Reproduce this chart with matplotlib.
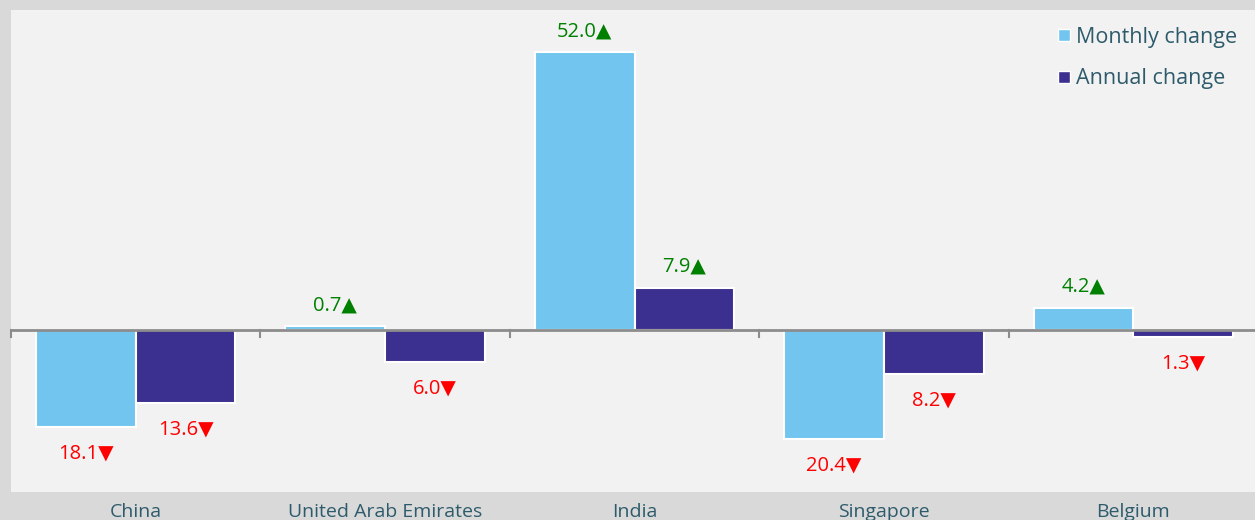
import numpy as np
import matplotlib.pyplot as plt
from matplotlib.lines import Line2D

plt.rcParams['font.family'] = ['Open Sans', 'DejaVu Sans']

countries = ['China', 'United Arab Emirates', 'India', 'Singapore', 'Belgium']
monthly = [-18.1, 0.7, 52.0, -20.4, 4.2]
annual = [-13.6, -6.0, 7.9, -8.2, -1.3]

c_month = '#72c5ef'
c_year = '#3b2f8f'
c_text = '#2e5b6b'

fig = plt.figure(figsize=(12.55, 5.2), dpi=100)
fig.patch.set_facecolor('#d9d9d9')
ax = fig.add_axes([0.0088, 0.0538, 0.9936, 0.927])
ax.set_facecolor('#f2f2f2')

x = np.arange(len(countries))
w = 0.4
b1 = ax.bar(x - w / 2, monthly, w, color=c_month, edgecolor='white', linewidth=1.5, label='Monthly change', zorder=2)
b2 = ax.bar(x + w / 2, annual, w, color=c_year, edgecolor='white', linewidth=1.5, label='Annual change', zorder=2)

ax.set_xlim(-0.5, len(countries) - 0.5)
ax.set_ylim(-30.3, 59.9)

# zero line and category boundary ticks
ax.axhline(0, color='#8c8c8c', lw=2, zorder=3)
for b in np.arange(-0.5, len(countries) - 0.4, 1.0):
    ax.plot([b, b], [0, -1.3], color='#8c8c8c', lw=1.5, zorder=3, clip_on=False)

for bars, vals in [(b1, monthly), (b2, annual)]:
    for rect, v in zip(bars, vals):
        cx = rect.get_x() + rect.get_width() / 2
        if v >= 0:
            ax.annotate(f'{abs(v):.1f}\u25B2', (cx, v), xytext=(0, 8), textcoords='offset points',
                        ha='center', va='bottom', color='#008000', fontsize=14.5)
        else:
            ax.annotate(f'{abs(v):.1f}\u25BC', (cx, v), xytext=(0, -12), textcoords='offset points',
                        ha='center', va='top', color='#ff0000', fontsize=14.5)

ax.set_xticks(x)
ax.set_xticklabels(countries, fontsize=14, color=c_text)
ax.tick_params(axis='x', length=0, pad=8)
ax.set_yticks([])
for s in ax.spines.values():
    s.set_visible(False)

handles = [Line2D([], [], marker='s', ls='', color=c_month, markeredgecolor='white', markersize=9),
           Line2D([], [], marker='s', ls='', color=c_year, markeredgecolor='white', markersize=9)]
leg = ax.legend(handles, ['Monthly change', 'Annual change'], loc='upper right', bbox_to_anchor=(0.999, 1.005),
                frameon=False, fontsize=15.5, labelcolor=c_text, handletextpad=0.25, labelspacing=0.95,
                handlelength=0.6)

fig.savefig('out.png', dpi=100, facecolor=fig.get_facecolor())
